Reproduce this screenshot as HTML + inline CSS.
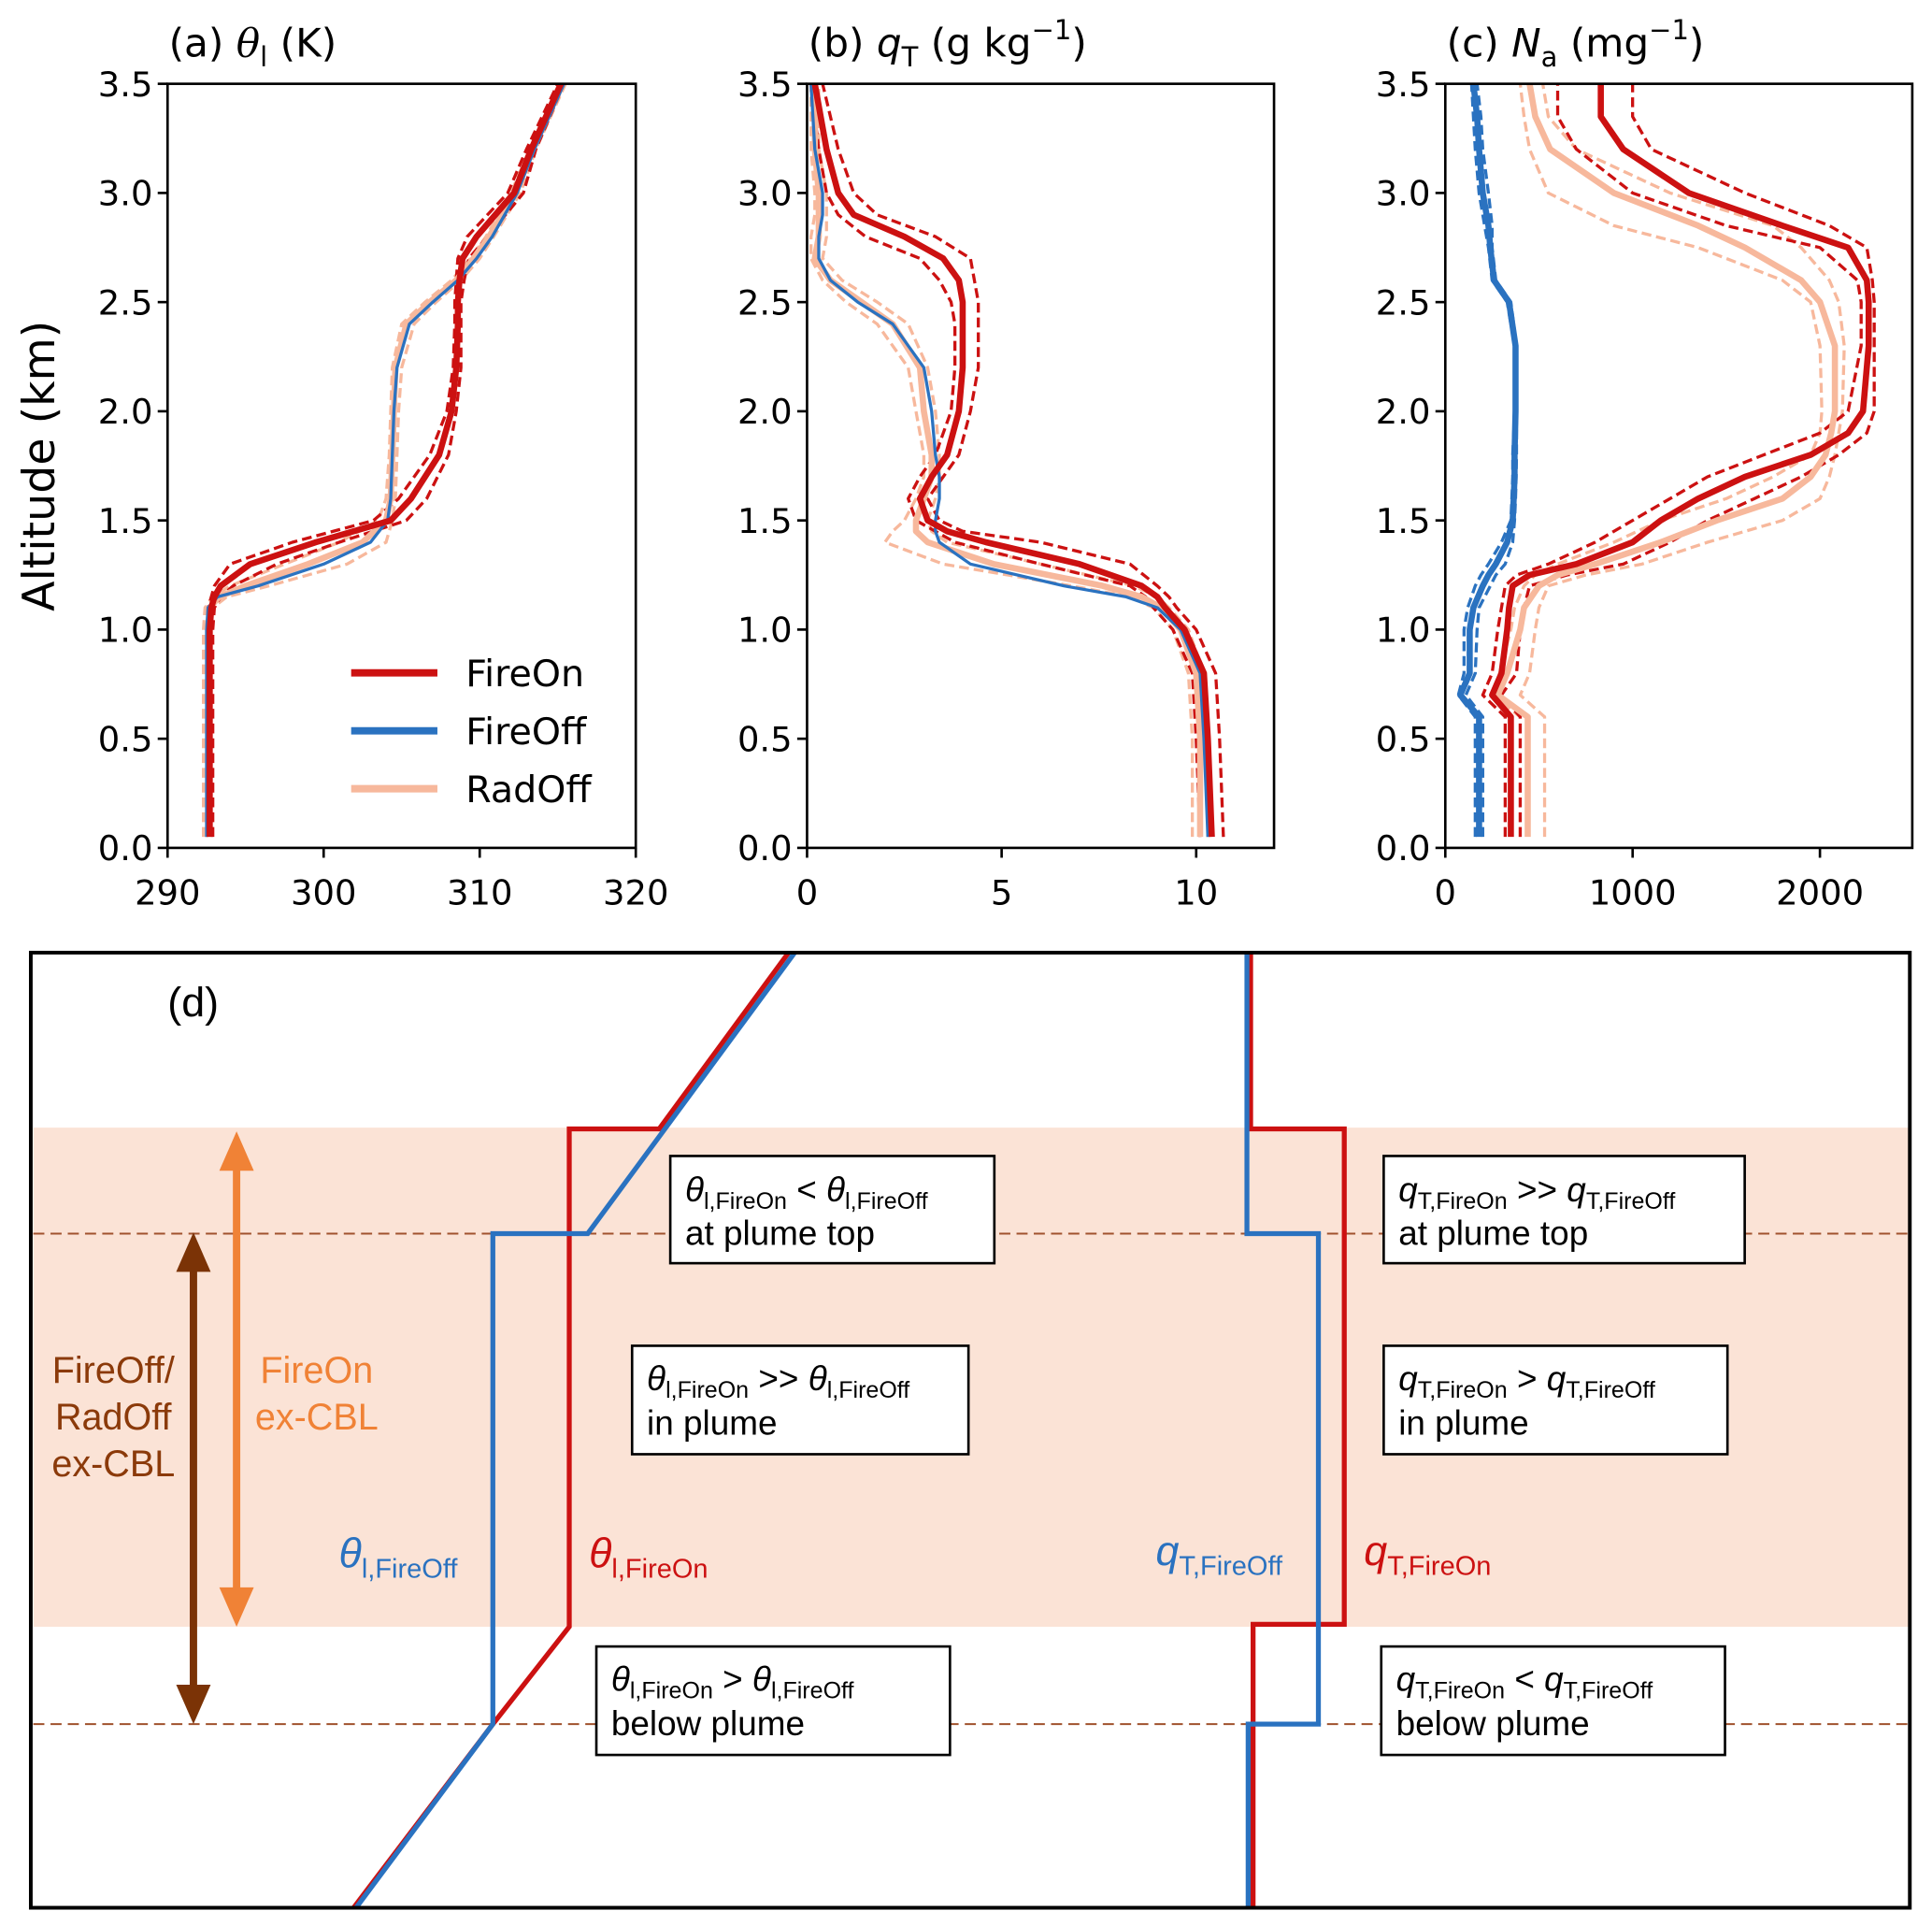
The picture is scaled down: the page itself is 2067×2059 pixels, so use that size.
<!DOCTYPE html>
<html><head><meta charset="utf-8"><style>
html,body{margin:0;padding:0;background:#fff}
svg{display:block}
text{font-family:"DejaVu Sans","Liberation Sans",sans-serif}
.d text{font-family:"Liberation Sans","DejaVu Sans",sans-serif}
</style></head><body>
<svg id="fig" width="2067" height="2059" viewBox="0 0 1568 1562" preserveAspectRatio="none" xmlns="http://www.w3.org/2000/svg">
<g id="topg"></g>
<g class="d">
  <rect x="27" y="915" width="1522" height="405" fill="#fbe3d6"/>
  <line x1="27" y1="1001" x2="1549" y2="1001" stroke="#a0522d" stroke-width="1.5" stroke-dasharray="9,5"/>
  <line x1="27" y1="1399" x2="1549" y2="1399" stroke="#a0522d" stroke-width="1.5" stroke-dasharray="9,5"/>
  <polyline points="287,1548 400,1399 462,1320 462,916 535,916 640,773" fill="none" stroke="#cc1111" stroke-width="4"/>
  <polyline points="289,1548 400,1399 400,1001 477,1001 645,773" fill="none" stroke="#2a72c0" stroke-width="4"/>
  <polyline points="1015,773 1015,916 1091,916 1091,1318 1017,1318 1017,1548" fill="none" stroke="#cc1111" stroke-width="4"/>
  <polyline points="1012,773 1012,1001 1070,1001 1070,1399 1013,1399 1013,1548" fill="none" stroke="#2a72c0" stroke-width="4"/>
  <line x1="192" y1="945" x2="192" y2="1292" stroke="#f08236" stroke-width="6"/>
  <polygon points="192,918 178,950 206,950" fill="#f08236"/><polygon points="192,1320 178,1288 206,1288" fill="#f08236"/>
  <line x1="157" y1="1028" x2="157" y2="1372" stroke="#7b3306" stroke-width="6"/>
  <polygon points="157,1000 143,1032 171,1032" fill="#7b3306"/><polygon points="157,1399 143,1367 171,1367" fill="#7b3306"/>
  <text x="136" y="825" font-size="34">(d)</text>
  <text x="92" y="1122" font-size="30" fill="#8b3a0a" text-anchor="middle"><tspan x="92">FireOff/</tspan><tspan x="92" dy="38">RadOff</tspan><tspan x="92" dy="38">ex-CBL</tspan></text>
  <text x="257" y="1122" font-size="30" fill="#f08236" text-anchor="middle"><tspan x="257">FireOn</tspan><tspan x="257" dy="38">ex-CBL</tspan></text>
  <text x="275" y="1272" font-size="34" fill="#2a72c0"><tspan font-style="italic">θ</tspan><tspan font-size="22" dy="8">l,FireOff</tspan></text>
  <text x="478" y="1272" font-size="34" fill="#cc1111"><tspan font-style="italic">θ</tspan><tspan font-size="22" dy="8">l,FireOn</tspan></text>
  <text x="938" y="1270" font-size="34" fill="#2a72c0"><tspan font-style="italic">q</tspan><tspan font-size="22" dy="8">T,FireOff</tspan></text>
  <text x="1107" y="1270" font-size="34" fill="#cc1111"><tspan font-style="italic">q</tspan><tspan font-size="22" dy="8">T,FireOn</tspan></text>
  <g font-size="28">
    <rect x="544" y="938" width="263" height="87" fill="#fff" stroke="#000" stroke-width="2"/>
    <text x="556" y="975"><tspan font-style="italic">θ</tspan><tspan font-size="19" dy="6">l,FireOn</tspan><tspan dy="-6"> &lt; </tspan><tspan font-style="italic">θ</tspan><tspan font-size="19" dy="6">l,FireOff</tspan></text>
    <text x="556" y="1010">at plume top</text>
    <rect x="513" y="1092" width="273" height="88" fill="#fff" stroke="#000" stroke-width="2"/>
    <text x="525" y="1128"><tspan font-style="italic">θ</tspan><tspan font-size="19" dy="6">l,FireOn</tspan><tspan dy="-6"> &gt;&gt; </tspan><tspan font-style="italic">θ</tspan><tspan font-size="19" dy="6">l,FireOff</tspan></text>
    <text x="525" y="1164">in plume</text>
    <rect x="484" y="1336" width="287" height="88" fill="#fff" stroke="#000" stroke-width="2"/>
    <text x="496" y="1372"><tspan font-style="italic">θ</tspan><tspan font-size="19" dy="6">l,FireOn</tspan><tspan dy="-6"> &gt; </tspan><tspan font-style="italic">θ</tspan><tspan font-size="19" dy="6">l,FireOff</tspan></text>
    <text x="496" y="1408">below plume</text>
    <rect x="1123" y="938" width="293" height="87" fill="#fff" stroke="#000" stroke-width="2"/>
    <text x="1135" y="975"><tspan font-style="italic">q</tspan><tspan font-size="19" dy="6">T,FireOn</tspan><tspan dy="-6"> &gt;&gt; </tspan><tspan font-style="italic">q</tspan><tspan font-size="19" dy="6">T,FireOff</tspan></text>
    <text x="1135" y="1010">at plume top</text>
    <rect x="1123" y="1092" width="279" height="88" fill="#fff" stroke="#000" stroke-width="2"/>
    <text x="1135" y="1128"><tspan font-style="italic">q</tspan><tspan font-size="19" dy="6">T,FireOn</tspan><tspan dy="-6"> &gt; </tspan><tspan font-style="italic">q</tspan><tspan font-size="19" dy="6">T,FireOff</tspan></text>
    <text x="1135" y="1164">in plume</text>
    <rect x="1121" y="1336" width="279" height="88" fill="#fff" stroke="#000" stroke-width="2"/>
    <text x="1133" y="1372"><tspan font-style="italic">q</tspan><tspan font-size="19" dy="6">T,FireOn</tspan><tspan dy="-6"> &lt; </tspan><tspan font-style="italic">q</tspan><tspan font-size="19" dy="6">T,FireOff</tspan></text>
    <text x="1133" y="1408">below plume</text>
  </g>
  <rect x="25" y="773" width="1525" height="775" fill="none" stroke="#000" stroke-width="3"/>
</g>
</svg>
<script>
// Panel (a) theta_l
const aZ=[0.05,0.5,1.0,1.1,1.15,1.2,1.3,1.4,1.5,1.6,1.8,2.0,2.2,2.4,2.5,2.6,2.7,2.8,3.0,3.2,3.5];
const aFireOn=[292.7,292.7,292.7,292.8,293.0,293.4,295.3,299.5,304.3,305.6,307.4,308.2,308.5,308.6,308.6,308.7,308.9,309.8,312.2,313.3,315.2];
const aFireOff=[292.5,292.5,292.5,292.6,293.2,295.8,300.0,303.0,304.1,304.3,304.4,304.5,304.7,305.5,307.0,308.6,309.8,310.8,312.4,313.5,315.4];
const aRadOff=[292.6,292.6,292.6,292.7,293.3,295.0,299.0,302.5,304.0,304.3,304.4,304.5,304.6,305.3,306.8,308.5,309.6,310.6,312.3,313.4,315.3];
const aFireOnHi=[292.9,292.9,292.9,293.0,293.4,294.2,297.0,301.0,305.3,306.6,308.0,308.5,308.8,308.8,308.8,309.0,309.3,310.5,312.8,313.6,315.4];
const aFireOnLo=[292.5,292.5,292.5,292.6,292.8,293.0,294.0,298.0,303.2,304.8,306.8,307.9,308.3,308.4,308.4,308.5,308.6,309.2,311.8,313.0,315.0];
const aRadOffHi=[292.8,292.8,292.8,292.9,293.8,296.5,301.5,304.0,304.4,304.6,304.7,304.8,305.0,305.8,307.2,308.8,310.0,310.9,312.6,313.6,315.5];
const aRadOffLo=[292.3,292.3,292.3,292.4,292.9,294.0,297.5,301.0,303.5,304.0,304.2,304.3,304.4,305.0,306.5,308.2,309.4,310.4,312.0,313.2,315.1];
const aTicks=[290,300,310,320];
// Panel (b) q_T
const bZ=[0.05,0.5,0.8,1.0,1.1,1.15,1.2,1.3,1.4,1.45,1.5,1.6,1.7,1.8,2.0,2.2,2.4,2.5,2.6,2.7,2.8,2.9,3.0,3.2,3.5];
const bFireOn=[10.4,10.3,10.2,9.7,9.2,9.0,8.6,7.0,4.6,3.6,3.1,2.9,3.2,3.6,3.9,4.0,4.0,4.0,3.9,3.5,2.5,1.2,0.8,0.5,0.2];
const bFireOff=[10.3,10.2,10.1,9.6,9.0,8.2,6.6,4.2,3.4,3.3,3.3,3.4,3.4,3.3,3.2,3.0,2.2,1.3,0.6,0.3,0.3,0.4,0.4,0.2,0.1];
const bRadOff=[10.1,10.1,10.0,9.6,9.1,8.6,7.6,4.8,3.1,2.8,2.8,3.0,3.2,3.2,3.0,2.9,2.2,1.4,0.6,0.2,0.3,0.3,0.3,0.2,0.2];
const bFireOnHi=[10.7,10.6,10.5,10.0,9.5,9.3,9.0,8.3,6.0,4.0,3.4,3.1,3.5,3.9,4.2,4.4,4.4,4.4,4.3,4.2,3.3,1.8,1.2,0.8,0.4];
const bFireOnLo=[10.1,10.0,9.9,9.4,8.9,8.7,8.3,6.0,3.8,3.3,2.8,2.6,2.9,3.3,3.7,3.8,3.8,3.7,3.4,2.9,1.5,0.8,0.5,0.3,0.1];
const bRadOffHi=[10.3,10.3,10.2,9.8,9.3,9.0,8.4,6.0,3.6,3.2,3.1,3.3,3.4,3.4,3.3,3.1,2.6,1.8,0.9,0.4,0.5,0.5,0.5,0.3,0.3];
const bRadOffLo=[9.9,9.9,9.8,9.4,8.9,8.3,6.8,3.5,2.0,2.2,2.5,2.8,3.0,3.0,2.8,2.6,1.8,1.0,0.4,0.1,0.1,0.2,0.2,0.1,0.1];
const bTicks=[0,5,10];
// Panel (c) N_a
const cZ=[0.05,0.6,0.7,0.8,1.0,1.1,1.2,1.25,1.3,1.4,1.5,1.6,1.7,1.8,1.9,2.0,2.3,2.5,2.6,2.75,2.85,3.0,3.2,3.35,3.5];
const cFireOn=[350,350,250,300,330,340,360,450,700,1000,1150,1350,1600,1950,2150,2230,2260,2260,2250,2150,1800,1300,950,830,830];
const cFireOff=[180,180,80,130,130,150,200,230,270,330,360,365,370,370,372,375,375,340,260,240,230,200,180,170,150];
const cRadOff=[440,440,280,330,400,420,500,600,800,1150,1450,1800,1950,2030,2060,2080,2080,2000,1900,1600,1350,900,560,480,450];
const cFireOnHi=[400,400,300,380,400,420,450,650,950,1200,1400,1650,1900,2100,2250,2290,2290,2290,2280,2250,2050,1600,1100,1000,1000];
const cFireOnLo=[320,320,200,250,280,300,320,380,550,800,1000,1200,1400,1700,2000,2150,2220,2220,2200,2000,1500,1000,700,600,600];
const cFireOffHi=[200,200,110,160,170,180,240,270,320,360,370,375,378,380,380,380,380,350,270,250,250,230,200,190,170];
const cFireOffLo=[160,160,70,100,100,120,160,190,230,300,350,355,360,360,365,370,370,330,250,230,210,180,160,150,140];
const cRadOffHi=[530,530,400,450,480,500,550,750,1050,1400,1800,2000,2050,2080,2100,2120,2130,2100,2050,1900,1750,1200,700,550,520];
const cRadOffLo=[400,400,250,290,350,370,420,480,600,900,1150,1500,1750,1950,2000,2010,2000,1950,1800,1350,900,550,450,420,400];
const cTicks=[0,1000,2000];
const yTicks=[0,0.5,1.0,1.5,2.0,2.5,3.0,3.5];

const NS='http://www.w3.org/2000/svg';
const topG=document.getElementById('topg');
const RED='#cc1111',BLUE='#2a72c0',PINK='#f7b89c';
const Y0=688,Y1=68;
function yS(z){return Y0-(z/3.5)*(Y0-Y1);}
function mk(tag,attrs,parent){const e=document.createElementNS(NS,tag);for(const k in attrs)e.setAttribute(k,attrs[k]);(parent||topG).appendChild(e);return e;}
function panel(key,L,R,xmin,xmax,ticks,Z,series,title){
  const g=mk('g',{});
  
  
  const xS=v=>L+(v-xmin)/(xmax-xmin)*(R-L);
  const clip=mk('clipPath',{id:'clip'+key},g);
  mk('rect',{x:L,y:Y1,width:R-L,height:Y0-Y1},clip);
  const lg=mk('g',{'clip-path':'url(#clip'+key+')'},g);
  series.forEach(s=>{
    const pts=s.v.map((v,i)=>xS(v).toFixed(1)+','+yS(Z[i]).toFixed(1)).join(' ');
    const p=mk('polyline',{points:pts,fill:'none',stroke:s.c,'stroke-width':s.w,'stroke-linejoin':'round'},lg);
    if(s.d)p.setAttribute('stroke-dasharray',s.d);
    
    
  });
  const fr=mk('rect',{x:L,y:Y1,width:R-L,height:Y0-Y1,fill:'none',stroke:'#000','stroke-width':2},g);
  
  
  ticks.forEach(t=>{
    const x=xS(t);
    mk('line',{x1:x,y1:Y0,x2:x,y2:Y0+8,stroke:'#000','stroke-width':2},g);
    const tx=mk('text',{x:x,y:Y0+46,'font-size':28,'text-anchor':'middle'},g);
    tx.textContent=t;
    
    
  });
  yTicks.forEach(t=>{
    const y=yS(t);
    mk('line',{x1:L-8,y1:y,x2:L,y2:y,stroke:'#000','stroke-width':2},g);
    const tx=mk('text',{x:L-12,y:y+10,'font-size':28,'text-anchor':'end'},g);
    tx.textContent=t.toFixed(1);
    
    
  });
  const tt=mk('text',{x:L+1,y:46,'font-size':32},g);
  tt.innerHTML=title;
  
  
}
function offW(n){return n==='c'?5:2.5;}
function set(n,fon,foff,rad,fh,fl,rh,rl,offh,offl){
  const s=[];
  if(offh){s.push({n:n+'-fireoff-hi',v:offh,c:BLUE,w:2.5,d:'8,4'});s.push({n:n+'-fireoff-lo',v:offl,c:BLUE,w:2.5,d:'8,4'});}
  s.push({n:n+'-radoff-hi',v:rh,c:PINK,w:2.5,d:'8,4'},{n:n+'-radoff-lo',v:rl,c:PINK,w:2.5,d:'8,4'});
  s.push({n:n+'-fireon-hi',v:fh,c:RED,w:2.5,d:'8,4'},{n:n+'-fireon-lo',v:fl,c:RED,w:2.5,d:'8,4'});
  s.push({n:n+'-radoff',v:rad,c:PINK,w:5},{n:n+'-fireoff',v:foff,c:BLUE,w:offW(n)},{n:n+'-fireon',v:fon,c:RED,w:5});
  return s;
}
panel('a',136,516,290,320,aTicks,aZ,set('a',aFireOn,aFireOff,aRadOff,aFireOnHi,aFireOnLo,aRadOffHi,aRadOffLo),'(a) <tspan font-family="DejaVu Serif" font-style="italic">θ</tspan><tspan font-size="22" dy="8">l</tspan><tspan dy="-8"> (K)</tspan>');
panel('b',655,1034,0,12,bTicks,bZ,set('b',bFireOn,bFireOff,bRadOff,bFireOnHi,bFireOnLo,bRadOffHi,bRadOffLo),'(b) <tspan font-style="italic">q</tspan><tspan font-size="22" dy="8">T</tspan><tspan dy="-8"> (g kg</tspan><tspan font-size="22" dy="-14">−1</tspan><tspan dy="14">)</tspan>');
panel('c',1173,1552,0,2493,cTicks,cZ,set('c',cFireOn,cFireOff,cRadOff,cFireOnHi,cFireOnLo,cRadOffHi,cRadOffLo,cFireOffHi,cFireOffLo),'(c) <tspan font-style="italic">N</tspan><tspan font-size="22" dy="8">a</tspan><tspan dy="-8"> (mg</tspan><tspan font-size="22" dy="-14">−1</tspan><tspan dy="14">)</tspan>');
const yl=mk('text',{x:0,y:0,'font-size':36,'text-anchor':'middle',transform:'translate(44,378) rotate(-90)'});
yl.textContent='Altitude (km)';


const leg=[['FireOn',RED,546],['FireOff',BLUE,593],['RadOff',PINK,640]];
leg.forEach(l=>{
  const ln=mk('line',{x1:285,y1:l[2],x2:355,y2:l[2],stroke:l[1],'stroke-width':6});
  
  
  const t=mk('text',{x:378,y:l[2]+11,'font-size':30});
  t.textContent=l[0];
  
  
});
</script>
</body></html>
